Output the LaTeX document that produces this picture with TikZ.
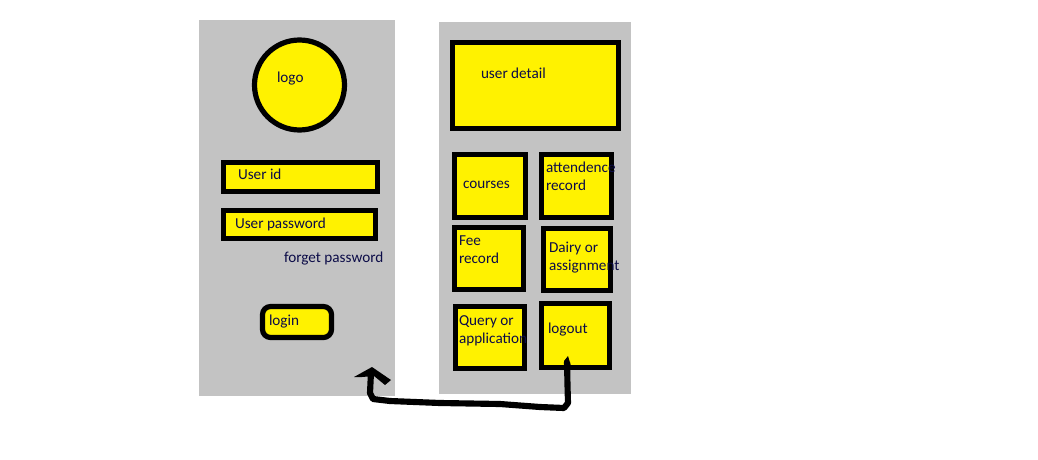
\documentclass[tikz,border=0pt]{standalone}
\usepackage{fontspec}
\setmainfont{Carlito}
\definecolor{panelgrey}{HTML}{C3C3C3}
\definecolor{boxyellow}{HTML}{FFF200}
\definecolor{ink}{HTML}{0C0C48}
\tikzset{
  panel/.style={fill=panelgrey,draw=none},
  boxy/.style={fill=boxyellow,draw=black,line width=3.9pt},
  txt/.style={anchor=base west,inner sep=0pt,outer sep=0pt,text=ink,font=\fontsize{11.4pt}{13pt}\selectfont,align=left},
  stroke/.style={draw=black,line width=4.6pt,line join=round,line cap=butt}
}
\begin{document}
\begin{tikzpicture}[x=0.75pt,y=-0.75pt]
\useasboundingbox (0,0) rectangle (1038,460);
\fill[white] (0,0) rectangle (1038,460);
\fill[panel] (199,20) rectangle (395,396);
\fill[panel] (439,22) rectangle (631,394);
% left panel
\draw[boxy] (299.5,85) circle (45);
\draw[boxy] (223.5,162.5) rectangle (377.5,191.5);
\draw[boxy] (223.5,210.5) rectangle (375.5,238.5);
\draw[boxy,rounded corners=6pt] (262.5,306.5) rectangle (331.5,337.5);
% right panel
\draw[boxy] (452.5,42.5) rectangle (618.5,128.5);
\draw[boxy] (454.5,154.5) rectangle (525.5,217.5);
\draw[boxy] (541.5,154.5) rectangle (611.5,217.5);
\draw[boxy] (454.5,227.5) rectangle (523.5,289.5);
\draw[boxy] (543.5,228.5) rectangle (610.5,290.5);
\draw[boxy] (455.5,306.5) rectangle (524.5,368.5);
\coordinate (logoutstart) at (567,358);
\draw[boxy] (541.5,303.5) rectangle (609.5,367.5);
% labels
\node[txt] (logo) at (277,83) {logo};
\node[txt] (uid) at (238,179) {User id};
\node[txt] (upw) at (235,228) {User password};
\node[txt] (forget) at (284,262) {forget password};
\node[txt] (login) at (269,325) {login};
\node[txt] (detail) at (481,79) {user detail};
\node[txt] (courses) at (463,188) {courses};
\node[txt] at (546,172) (att1) {attendence};
\node[txt] at (546,190) (att2) {record};
\node[txt] at (459,245) (fee1) {Fee};
\node[txt] at (459,263) (fee2) {record};
\node[txt] at (549,252) (dairy1) {Dairy or};
\node[txt] at (549,270) (dairy2) {assignment};
\node[txt] at (459,325) (q1) {Query or};
\node[txt] at (459,343) (q2) {application};
\node[txt] (logout) at (548,333) {logout};
% hand-drawn arrow
\coordinate (tip) at (372,367);
\coordinate (headl) at (354,377);
\coordinate (headr) at (391,380);
\fill[black] (logoutstart) ++(-3,3) -- (568,356) -- (571,366) -- (564,366) -- cycle;
\draw[stroke] (567,362) -- (567.5,385) -- (568,403) -- (564,408) -- (540,407)
  -- (500,404) -- (440,403) -- (390,401) -- (373,399) -- (370,393) -- (371,372);
\fill[black] (headl) -- (tip) -- (headr) -- (385,385) -- (374,376) -- (362,377) -- cycle;
\end{tikzpicture}
\end{document}
